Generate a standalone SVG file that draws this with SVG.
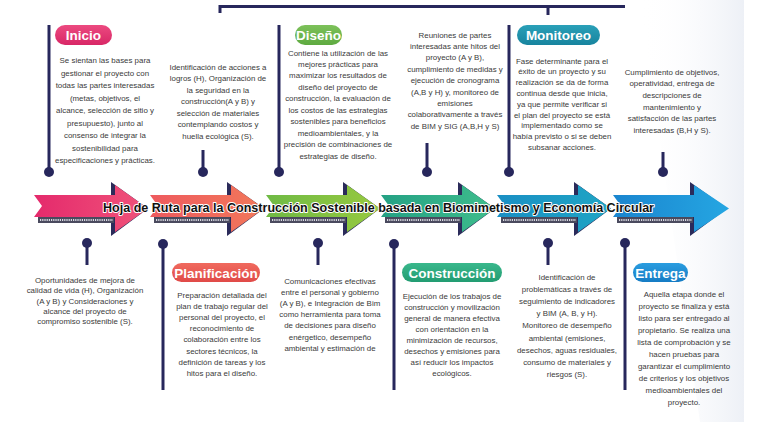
<svg xmlns="http://www.w3.org/2000/svg" width="764" height="422" viewBox="0 0 764 422">
<defs>
<style>
.t{font-family:"Liberation Sans",Arial,sans-serif;font-size:7.9px;fill:#3a3a3a;text-anchor:middle}
.pl{font-family:"Liberation Sans",Arial,sans-serif;font-size:13.5px;font-weight:bold;fill:#fff;text-anchor:middle}
.ln{stroke:#27275c;stroke-width:3;fill:none}
.dot{fill:#27275c}
.back{fill:#2b2b5a}
.strip{fill:#4a4a5e}
.dash{stroke:#d8d8e0;stroke-width:2.2;stroke-dasharray:1.2 1}
.title{font-family:"Liberation Sans Narrow","Liberation Sans",Arial,sans-serif;font-size:13.5px;font-weight:bold;fill:#111;stroke:#fff;stroke-width:2;paint-order:stroke;stroke-linejoin:round;text-anchor:middle}
</style>
<linearGradient id="bg" x1="1" y1="0" x2="0" y2="0"><stop offset="0" stop-color="#edf0f6"/><stop offset="1" stop-color="#ffffff" stop-opacity="0"/></linearGradient>
<linearGradient id="a1" x1="0" y1="0" x2="1" y2="0"><stop offset="0" stop-color="#e42a6c"/><stop offset="1" stop-color="#f0537a"/></linearGradient>
<linearGradient id="a2" x1="0" y1="0" x2="1" y2="0"><stop offset="0" stop-color="#ee5a5e"/><stop offset="1" stop-color="#f2785a"/></linearGradient>
<linearGradient id="a3" x1="0" y1="0" x2="1" y2="0"><stop offset="0" stop-color="#6fba45"/><stop offset="1" stop-color="#97c93f"/></linearGradient>
<linearGradient id="a4" x1="0" y1="0" x2="1" y2="0"><stop offset="0" stop-color="#24a184"/><stop offset="1" stop-color="#3fbd8c"/></linearGradient>
<linearGradient id="a5" x1="0" y1="0" x2="1" y2="0"><stop offset="0" stop-color="#1a8fc4"/><stop offset="1" stop-color="#1fa5c4"/></linearGradient>
<linearGradient id="a6" x1="0" y1="0" x2="1" y2="0"><stop offset="0" stop-color="#1a85cf"/><stop offset="1" stop-color="#25a6e2"/></linearGradient>
<linearGradient id="p1" x1="0" y1="0" x2="0" y2="1"><stop offset="0" stop-color="#ec4a80"/><stop offset="1" stop-color="#d82766"/></linearGradient>
<linearGradient id="p2" x1="0" y1="0" x2="0" y2="1"><stop offset="0" stop-color="#7dc15a"/><stop offset="1" stop-color="#5eaa40"/></linearGradient>
<linearGradient id="p3" x1="0" y1="0" x2="0" y2="1"><stop offset="0" stop-color="#2aa0b8"/><stop offset="1" stop-color="#17849e"/></linearGradient>
<linearGradient id="p4" x1="0" y1="0" x2="0" y2="1"><stop offset="0" stop-color="#f06a5e"/><stop offset="1" stop-color="#e04a48"/></linearGradient>
<linearGradient id="p5" x1="0" y1="0" x2="0" y2="1"><stop offset="0" stop-color="#3ab88c"/><stop offset="1" stop-color="#229c72"/></linearGradient>
<linearGradient id="p6" x1="0" y1="0" x2="0" y2="1"><stop offset="0" stop-color="#2a9de0"/><stop offset="1" stop-color="#167cc4"/></linearGradient>
<g id="arrowShape">
<polygon class="back" points="77,182 114,208.5 77,236"/>
<rect class="strip" x="4" y="217" width="76" height="6"/>
<line class="dash" x1="6" y1="220" x2="79" y2="220"/>
</g>
</defs>
<rect width="764" height="422" fill="#fff"/>
<polygon points="640,0 744,0 744,422 700,422" fill="url(#bg)"/>

<g id="timeline">
<g transform="translate(34,0)"><use href="#arrowShape"/><polygon fill="url(#a1)" points="0,195 81,195 81,185 114,208.5 81,232 81,217 0,217 8,206"/></g>
<g transform="translate(150,0)"><use href="#arrowShape"/><polygon fill="url(#a2)" points="0,195 81,195 81,185 114,208.5 81,232 81,217 0,217 8,206"/></g>
<g transform="translate(266,0)"><use href="#arrowShape"/><polygon fill="url(#a3)" points="0,195 81,195 81,185 114,208.5 81,232 81,217 0,217 8,206"/></g>
<g transform="translate(381,0)"><use href="#arrowShape"/><polygon fill="url(#a4)" points="0,195 81,195 81,185 114,208.5 81,232 81,217 0,217 8,206"/></g>
<g transform="translate(497,0)"><use href="#arrowShape"/><polygon fill="url(#a5)" points="0,195 81,195 81,185 114,208.5 81,232 81,217 0,217 8,206"/></g>
<g transform="translate(613,0)"><use href="#arrowShape"/><polygon fill="url(#a6)" points="0,195 81,195 81,185 116,208.5 81,232 81,217 0,217 8,206"/></g>
<text class="title" x="378.5" y="212" textLength="551" lengthAdjust="spacingAndGlyphs">Hoja de Ruta para la Construcción Sostenible basada en Biomimetismo y Economía Circular</text>
</g>

<g id="connectors">
<path class="ln" d="M220,13 V6.5 H625"/>
<path class="ln" d="M548,6 V15" stroke-width="4"/>
<line class="ln" x1="49" y1="25" x2="49" y2="172"/><circle class="dot" cx="49" cy="172" r="5"/>
<line class="ln" x1="203" y1="150" x2="203" y2="172"/><circle class="dot" cx="203" cy="172" r="5"/>
<line class="ln" x1="279" y1="25" x2="279" y2="172"/><circle class="dot" cx="279" cy="172" r="5"/>
<line class="ln" x1="427" y1="143" x2="427" y2="172"/><circle class="dot" cx="427" cy="172" r="5"/>
<line class="ln" x1="509" y1="25" x2="509" y2="172"/><circle class="dot" cx="509" cy="172" r="5"/>
<line class="ln" x1="663" y1="152" x2="663" y2="172"/><circle class="dot" cx="663" cy="172" r="5"/>
<line class="ln" x1="87" y1="243" x2="87" y2="265"/><circle class="dot" cx="87" cy="243" r="5"/>
<line class="ln" x1="163" y1="244" x2="163" y2="390"/><circle class="dot" cx="163" cy="244" r="5"/>
<line class="ln" x1="318" y1="243" x2="318" y2="265"/><circle class="dot" cx="318" cy="243" r="5"/>
<line class="ln" x1="394" y1="244" x2="394" y2="390"/><circle class="dot" cx="394" cy="244" r="5"/>
<line class="ln" x1="548" y1="243" x2="548" y2="265"/><circle class="dot" cx="548" cy="243" r="5"/>
<line class="ln" x1="625" y1="243" x2="625" y2="390"/><circle class="dot" cx="625" cy="243" r="5"/>
</g>

<g id="node-inicio">
<rect x="55" y="25" width="57" height="20" rx="10" fill="url(#p1)"/>
<text class="pl" x="83.5" y="40">Inicio</text>
<text class="t" y="63"><tspan x="105">Se sientan las bases para</tspan><tspan x="105" dy="12.5">gestionar el proyecto con</tspan><tspan x="105" dy="12.5">todas las partes interesadas</tspan><tspan x="105" dy="12.5">(metas, objetivos, el</tspan><tspan x="105" dy="12.5">alcance, selección de sitio y</tspan><tspan x="105" dy="12.5">presupuesto), junto al</tspan><tspan x="105" dy="12.5">consenso de integrar la</tspan><tspan x="105" dy="12.5">sostenibilidad para</tspan><tspan x="105" dy="12.5">especificaciones y prácticas.</tspan></text>
</g>

<g id="node-identificacion-acciones">
<text class="t" y="69.5"><tspan x="218">Identificación de acciones a</tspan><tspan x="218" dy="11.5">logros (H), Organización de</tspan><tspan x="218" dy="11.5">la seguridad en la</tspan><tspan x="218" dy="11.5">construcción(A y B) y</tspan><tspan x="218" dy="11.5">selección de materiales</tspan><tspan x="218" dy="11.5">contemplando costos y</tspan><tspan x="218" dy="11.5">huella ecológica (S).</tspan></text>
</g>

<g id="node-diseno">
<rect x="295" y="25" width="47" height="20" rx="10" fill="url(#p2)"/>
<text class="pl" x="318.5" y="40">Diseño</text>
<text class="t" y="55.5"><tspan x="338">Contiene la utilización de las</tspan><tspan x="338" dy="11.45">mejores prácticas para</tspan><tspan x="338" dy="11.45">maximizar los resultados de</tspan><tspan x="338" dy="11.45">diseño del proyecto de</tspan><tspan x="338" dy="11.45">construcción, la evaluación de</tspan><tspan x="338" dy="11.45">los costos de las estrategias</tspan><tspan x="338" dy="11.45">sostenibles para beneficios</tspan><tspan x="338" dy="11.45">medioambientales, y la</tspan><tspan x="338" dy="11.45">precisión de combinaciones de</tspan><tspan x="338" dy="11.45">estrategias de diseño.</tspan></text>
</g>

<g id="node-reuniones">
<text class="t" y="37.5"><tspan x="455">Reuniones de partes</tspan><tspan x="455" dy="11.4">interesadas ante hitos del</tspan><tspan x="455" dy="11.4">proyecto (A y B),</tspan><tspan x="455" dy="11.4">cumplimiento de medidas y</tspan><tspan x="455" dy="11.4">ejecución de cronograma</tspan><tspan x="455" dy="11.4">(A,B y H) y, monitoreo de</tspan><tspan x="455" dy="11.4">emisiones</tspan><tspan x="455" dy="11.4">colaborativamente a través</tspan><tspan x="455" dy="11.4">de BIM y SIG (A,B,H y S)</tspan></text>
</g>

<g id="node-monitoreo">
<rect x="517" y="25" width="83" height="20" rx="10" fill="url(#p3)"/>
<text class="pl" x="558.5" y="40">Monitoreo</text>
<text class="t" y="63.5"><tspan x="562">Fase determinante para el</tspan><tspan x="562" dy="10.8">éxito de un proyecto y su</tspan><tspan x="562" dy="10.8">realización se da de forma</tspan><tspan x="562" dy="10.8">continua desde que inicia,</tspan><tspan x="562" dy="10.8">ya que permite verificar si</tspan><tspan x="562" dy="10.8">el plan del proyecto se está</tspan><tspan x="562" dy="10.8">implementado como se</tspan><tspan x="562" dy="10.8">había previsto o si se deben</tspan><tspan x="562" dy="10.8">subsanar acciones.</tspan></text>
</g>

<g id="node-cumplimiento">
<text class="t" y="74.5"><tspan x="672">Cumplimiento de objetivos,</tspan><tspan x="672" dy="11.7">operatividad, entrega de</tspan><tspan x="672" dy="11.7">descripciones de</tspan><tspan x="672" dy="11.7">mantenimiento y</tspan><tspan x="672" dy="11.7">satisfacción de las partes</tspan><tspan x="672" dy="11.7">interesadas (B,H y S).</tspan></text>
</g>

<g id="node-oportunidades">
<text class="t" y="283"><tspan x="85">Oportunidades de mejora de</tspan><tspan x="85" dy="10.3">calidad de vida (H), Organización</tspan><tspan x="85" dy="10.3">(A y B) y Consideraciones y</tspan><tspan x="85" dy="10.3">alcance del proyecto de</tspan><tspan x="85" dy="10.3">compromiso sostenible (S).</tspan></text>
</g>

<g id="node-planificacion">
<rect x="172" y="263" width="88" height="19" rx="9.5" fill="url(#p4)"/>
<text class="pl" x="216" y="277.5">Planificación</text>
<text class="t" y="297.5"><tspan x="222">Preparación detallada del</tspan><tspan x="222" dy="11.2">plan de trabajo regular del</tspan><tspan x="222" dy="11.2">personal del proyecto, el</tspan><tspan x="222" dy="11.2">reconocimiento de</tspan><tspan x="222" dy="11.2">colaboración entre los</tspan><tspan x="222" dy="11.2">sectores técnicos, la</tspan><tspan x="222" dy="11.2">definición de tareas y los</tspan><tspan x="222" dy="11.2">hitos para el diseño.</tspan></text>
</g>

<g id="node-comunicaciones">
<text class="t" y="284"><tspan x="330">Comunicaciones efectivas</tspan><tspan x="330" dy="11.1">entre el personal y gobierno</tspan><tspan x="330" dy="11.1">(A y B), e Integración de Bim</tspan><tspan x="330" dy="11.1">como herramienta para toma</tspan><tspan x="330" dy="11.1">de decisiones para diseño</tspan><tspan x="330" dy="11.1">enérgetico, desempeño</tspan><tspan x="330" dy="11.1">ambiental y estimación de</tspan></text>
</g>

<g id="node-construccion">
<rect x="402" y="263" width="100" height="19" rx="9.5" fill="url(#p5)"/>
<text class="pl" x="452" y="277.5">Construcción</text>
<text class="t" y="299"><tspan x="452">Ejecución de los trabajos de</tspan><tspan x="452" dy="11">construcción y movilización</tspan><tspan x="452" dy="11">general de manera efectiva</tspan><tspan x="452" dy="11">con orientación en la</tspan><tspan x="452" dy="11">minimización de recursos,</tspan><tspan x="452" dy="11">desechos y emisiones para</tspan><tspan x="452" dy="11">así reducir los impactos</tspan><tspan x="452" dy="11">ecológicos.</tspan></text>
</g>

<g id="node-identificacion-problematicas">
<text class="t" y="280"><tspan x="567">Identificación de</tspan><tspan x="567" dy="12.1">problemáticas a través de</tspan><tspan x="567" dy="12.1">seguimiento de indicadores</tspan><tspan x="567" dy="12.1">y BIM (A, B, y H).</tspan><tspan x="567" dy="12.1">Monitoreo de desempeño</tspan><tspan x="567" dy="12.1">ambiental (emisiones,</tspan><tspan x="567" dy="12.1">desechos, aguas residuales,</tspan><tspan x="567" dy="12.1">consumo de materiales y</tspan><tspan x="567" dy="12.1">riesgos (S).</tspan></text>
</g>

<g id="node-entrega">
<rect x="633" y="263" width="55" height="19" rx="9.5" fill="url(#p6)"/>
<text class="pl" x="660.5" y="277.5">Entrega</text>
<text class="t" y="296.5"><tspan x="684">Aquella etapa donde el</tspan><tspan x="684" dy="12.1">proyecto se finaliza y está</tspan><tspan x="684" dy="12.1">listo para ser entregado al</tspan><tspan x="684" dy="12.1">propietario. Se realiza una</tspan><tspan x="684" dy="12.1">lista de comprobación y se</tspan><tspan x="684" dy="12.1">hacen pruebas para</tspan><tspan x="684" dy="12.1">garantizar el cumplimiento</tspan><tspan x="684" dy="12.1">de criterios y los objetivos</tspan><tspan x="684" dy="12.1">medioambientales del</tspan><tspan x="684" dy="12.1">proyecto.</tspan></text>
</g>
</svg>
